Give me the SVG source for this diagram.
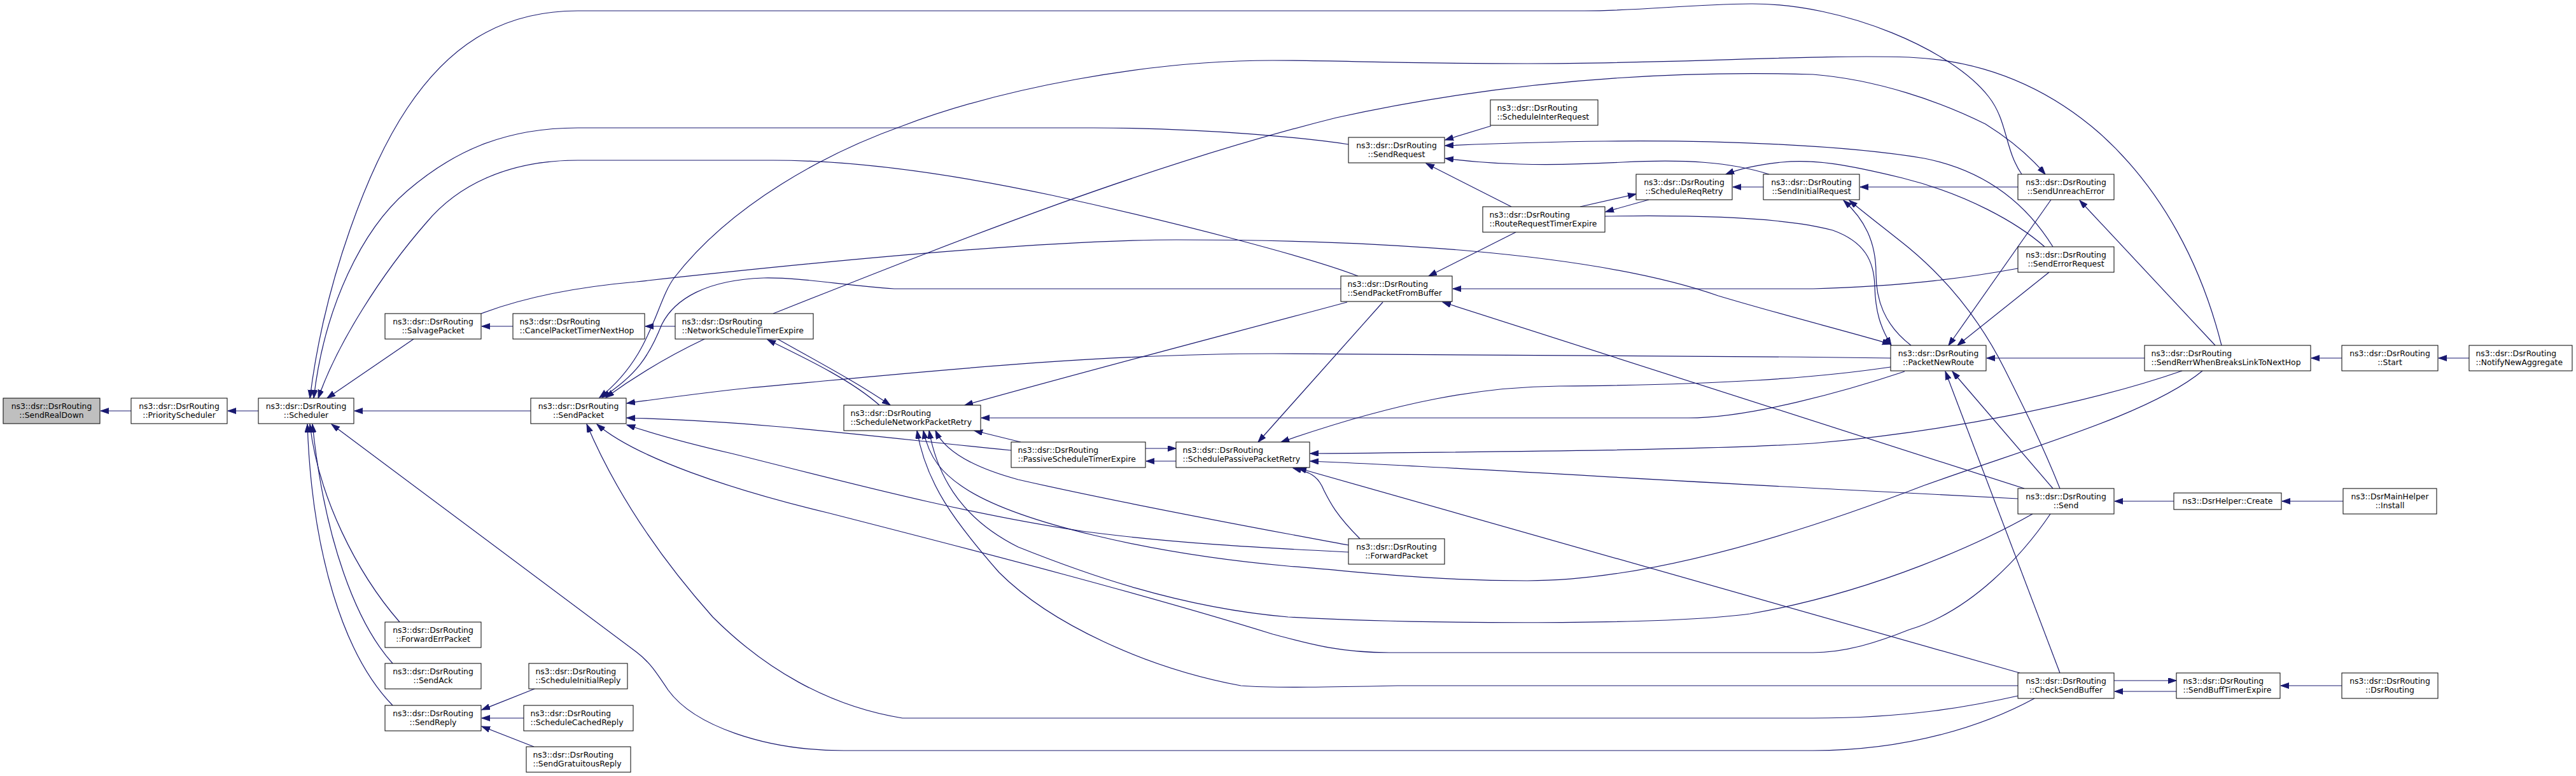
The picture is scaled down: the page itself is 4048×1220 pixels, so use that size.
<svg xmlns="http://www.w3.org/2000/svg" width="4048" height="1220" viewBox="0 0 4048 1220">
<defs>
<marker id="ah" markerUnits="userSpaceOnUse" markerWidth="14" markerHeight="10" refX="13" refY="4.5" orient="auto">
<path d="M0,0 L13,4.5 L0,9 z" fill="#191970" stroke="#191970" stroke-width="1"/>
</marker>
<style>
.n rect{fill:#fff;stroke:#000;stroke-width:1}
.n.g rect{fill:#bfbfbf}
text{font-family:"DejaVu Sans","Liberation Sans",sans-serif;font-size:12.4px;fill:#000}
.c{text-anchor:middle}
#edges path{fill:none;stroke:#191970;stroke-width:1.2;marker-end:url(#ah)}
</style>
</defs>
<rect x="0" y="0" width="4048" height="1220" fill="#fff"/>
<g id="edges">
<path d="M206,646 L158,646"/>
<path d="M406,646 L358,646"/>
<path d="M834,646 L557,646"/>
<path d="M650,533 L514,626"/>
<path d="M3177,274 C3150,235 3155,190 3125,152 C3070,80 2900,5 2751,6 C2650,7 2580,17 2490,17 L908,17 C780,17 700,80 640,170 C580,260 510,440 487,626"/>
<path d="M2119,227 C2060,218 1900,201 1718,201 L908,201 C790,201 710,240 640,300 C570,360 510,480 493,626"/>
<path d="M2134,434 C2060,405 1850,350 1653,307 C1480,270 1330,252 1215,252 L908,252 C800,252 720,290 670,350 C600,430 530,540 500,626"/>
<path d="M628,978 C560,900 500,780 487,667"/>
<path d="M617,1043 C560,980 510,850 491,667"/>
<path d="M617,1109 C540,1030 490,870 483,667"/>
<path d="M3197,1098 C3120,1140 3000,1180 2849,1180 L1326,1180 C1200,1180 1090,1140 1050,1085 C1030,1055 1020,1040 1000,1025 L521,667"/>
<path d="M840,1083 L757,1116"/>
<path d="M823,1129 L757,1129"/>
<path d="M839,1174 L757,1142"/>
<path d="M806,513 L757,513"/>
<path d="M1061,513 L1014,513"/>
<path d="M756,493 C830,465 920,450 1000,443 C1300,410 1650,377 1849,377 C2150,377 2500,395 2700,465 C2800,495 2900,520 2971,541"/>
<path d="M3491,543 C3460,420 3400,300 3300,210 C3220,140 3120,95 3000,90 C2850,85 2650,100 2400,100 C2200,100 2100,95 2000,95 C1800,95 1570,140 1418,198 C1300,240 1150,320 1060,436 C1030,475 1025,560 942,625"/>
<path d="M2107,454 L1405,454 C1320,448 1260,436 1200,437 C1110,440 1060,470 1040,510 C1020,560 1000,590 946,625"/>
<path d="M1107,533 C1050,560 1000,590 952,625"/>
<path d="M2971,563 C2600,558 2200,556 2000,556 C1700,556 1400,590 1176,610 C1100,618 1050,625 985,634"/>
<path d="M1589,708 C1400,690 1200,662 985,657"/>
<path d="M2119,868 C2000,862 1850,855 1700,835 C1500,805 1300,750 1150,713 C1080,697 1030,683 985,668"/>
<path d="M3222,808 C3180,870 3100,960 3000,990 C2950,1010 2900,1026 2849,1026 L2183,1026 C2100,1026 2050,1010 2000,997 C1800,935 1550,870 1300,806 C1150,770 1000,720 938,667"/>
<path d="M3171,1094 C3100,1110 3000,1129 2849,1129 L1418,1129 C1300,1110 1200,1050 1120,970 C1040,880 970,780 922,667"/>
<path d="M1222,533 C1280,566 1345,600 1399,637"/>
<path d="M1382,637 C1340,600 1280,570 1206,534"/>
<path d="M1604,695 L1531,677"/>
<path d="M2993,584 C2900,615 2750,657 2653,657 L1542,657"/>
<path d="M2117,475 C1950,520 1700,585 1516,637"/>
<path d="M2119,857 C2000,835 1780,795 1600,754 C1530,735 1485,710 1470,677"/>
<path d="M3461,583 C3380,650 3200,700 3024,763 C2850,830 2600,913 2400,913 C2250,913 2150,900 2024,890 C1800,870 1600,820 1520,770 C1480,745 1460,720 1451,677"/>
<path d="M3194,808 C3120,850 2950,930 2750,965 C2600,985 2200,980 2024,970 C1850,955 1700,900 1600,860 C1520,820 1475,760 1460,677"/>
<path d="M3171,1078 L2196,1078 C2100,1080 2000,1082 1950,1078 C1800,1050 1650,980 1570,900 C1500,820 1455,760 1441,677"/>
<path d="M1800,705 L1848,705"/>
<path d="M1848,725 L1801,725"/>
<path d="M2173,475 L1977,695"/>
<path d="M2971,577 C2850,595 2700,605 2450,607 C2330,608 2200,630 2013,695"/>
<path d="M3429,583 C3280,635 3050,680 2849,697 C2700,707 2400,710 2059,713"/>
<path d="M3171,784 C3100,780 3000,775 2900,770 C2600,755 2300,735 2059,725"/>
<path d="M3174,1058 L2040,736"/>
<path d="M2137,847 C2100,810 2090,790 2080,770 C2070,745 2055,742 2032,736"/>
<path d="M1215,493 C1500,380 1800,260 2100,185 C2350,130 2600,110 2849,117 C2950,125 3050,160 3120,195 C3160,220 3192,248 3214,274"/>
<path d="M2343,198 L2271,220"/>
<path d="M3226,388 C3190,330 3130,270 3024,249 C2900,228 2700,220 2522,222 C2420,223 2340,226 2271,229"/>
<path d="M2780,274 C2720,255 2650,250 2550,255 C2420,262 2340,258 2271,249"/>
<path d="M2375,325 L2241,257"/>
<path d="M2382,365 L2245,434"/>
<path d="M2483,325 L2571,305"/>
<path d="M2591,314 L2523,333"/>
<path d="M2771,294 L2723,294"/>
<path d="M3213,388 C3170,350 3090,305 2990,280 C2900,258 2850,250 2800,255 C2760,259 2735,265 2712,274"/>
<path d="M3171,294 L2923,294"/>
<path d="M3237,768 C3210,700 3180,640 3150,580 C3110,500 3060,440 3000,390 C2960,358 2930,335 2906,315"/>
<path d="M3003,543 C2960,510 2948,470 2948,430 C2948,380 2930,345 2897,315"/>
<path d="M2522,340 C2650,338 2800,340 2880,362 C2930,380 2945,410 2946,450 C2947,490 2955,515 2972,543"/>
<path d="M3171,422 C3100,435 3000,450 2849,454 L2283,454"/>
<path d="M3181,768 L2267,475"/>
<path d="M3370,563 L3122,563"/>
<path d="M3223,314 L3062,543"/>
<path d="M3220,428 L3076,543"/>
<path d="M3226,768 L3068,584"/>
<path d="M3237,1058 L3057,584"/>
<path d="M3481,543 L3268,315"/>
<path d="M3680,563 L3632,563"/>
<path d="M3880,563 L3832,563"/>
<path d="M3416,788 L3323,788"/>
<path d="M3682,788 L3586,788"/>
<path d="M3322,1070 L3420,1070"/>
<path d="M3420,1087 L3323,1087"/>
<path d="M3680,1078 L3584,1078"/>
</g>
<g id="n1" class="n g"><rect x="5" y="626" width="152" height="40"/><text class="c" x="81" y="642.5">ns3::dsr::DsrRouting</text><text class="c" x="81" y="656.5">::SendRealDown</text></g>
<g id="n2" class="n"><rect x="206" y="626" width="151" height="40"/><text class="c" x="281.5" y="642.5">ns3::dsr::DsrRouting</text><text class="c" x="281.5" y="656.5">::PriorityScheduler</text></g>
<g id="n3" class="n"><rect x="406" y="626" width="150" height="40"/><text class="c" x="481" y="642.5">ns3::dsr::DsrRouting</text><text class="c" x="481" y="656.5">::Scheduler</text></g>
<g id="n4" class="n"><rect x="605" y="493" width="151" height="40"/><text class="c" x="680.5" y="509.5">ns3::dsr::DsrRouting</text><text class="c" x="680.5" y="523.5">::SalvagePacket</text></g>
<g id="n5" class="n"><rect x="605" y="978" width="151" height="40"/><text class="c" x="680.5" y="994.5">ns3::dsr::DsrRouting</text><text class="c" x="680.5" y="1008.5">::ForwardErrPacket</text></g>
<g id="n6" class="n"><rect x="605" y="1043" width="151" height="40"/><text class="c" x="680.5" y="1059.5">ns3::dsr::DsrRouting</text><text class="c" x="680.5" y="1073.5">::SendAck</text></g>
<g id="n7" class="n"><rect x="605" y="1109" width="151" height="40"/><text class="c" x="680.5" y="1125.5">ns3::dsr::DsrRouting</text><text class="c" x="680.5" y="1139.5">::SendReply</text></g>
<g id="n8" class="n"><rect x="806" y="493" width="207" height="40"/><text x="816.5" y="509.5">ns3::dsr::DsrRouting</text><text x="816.5" y="523.5">::CancelPacketTimerNextHop</text></g>
<g id="n9" class="n"><rect x="834" y="626" width="150" height="40"/><text class="c" x="909" y="642.5">ns3::dsr::DsrRouting</text><text class="c" x="909" y="656.5">::SendPacket</text></g>
<g id="n10" class="n"><rect x="831" y="1043" width="155" height="40"/><text x="841.5" y="1059.5">ns3::dsr::DsrRouting</text><text x="841.5" y="1073.5">::ScheduleInitialReply</text></g>
<g id="n11" class="n"><rect x="823" y="1109" width="172" height="40"/><text x="833.5" y="1125.5">ns3::dsr::DsrRouting</text><text x="833.5" y="1139.5">::ScheduleCachedReply</text></g>
<g id="n12" class="n"><rect x="827" y="1174" width="164" height="40"/><text x="837.5" y="1190.5">ns3::dsr::DsrRouting</text><text x="837.5" y="1204.5">::SendGratuitousReply</text></g>
<g id="n13" class="n"><rect x="1061" y="493" width="217" height="40"/><text x="1071.5" y="509.5">ns3::dsr::DsrRouting</text><text x="1071.5" y="523.5">::NetworkScheduleTimerExpire</text></g>
<g id="n14" class="n"><rect x="1326" y="637" width="215" height="40"/><text x="1336.5" y="653.5">ns3::dsr::DsrRouting</text><text x="1336.5" y="667.5">::ScheduleNetworkPacketRetry</text></g>
<g id="n15" class="n"><rect x="1589" y="695" width="211" height="40"/><text x="1599.5" y="711.5">ns3::dsr::DsrRouting</text><text x="1599.5" y="725.5">::PassiveScheduleTimerExpire</text></g>
<g id="n16" class="n"><rect x="1848" y="695" width="210" height="40"/><text x="1858.5" y="711.5">ns3::dsr::DsrRouting</text><text x="1858.5" y="725.5">::SchedulePassivePacketRetry</text></g>
<g id="n17" class="n"><rect x="2119" y="216" width="151" height="40"/><text class="c" x="2194.5" y="232.5">ns3::dsr::DsrRouting</text><text class="c" x="2194.5" y="246.5">::SendRequest</text></g>
<g id="n18" class="n"><rect x="2342" y="157" width="169" height="40"/><text x="2352.5" y="173.5">ns3::dsr::DsrRouting</text><text x="2352.5" y="187.5">::ScheduleInterRequest</text></g>
<g id="n19" class="n"><rect x="2330" y="325" width="192" height="40"/><text x="2340.5" y="341.5">ns3::dsr::DsrRouting</text><text x="2340.5" y="355.5">::RouteRequestTimerExpire</text></g>
<g id="n20" class="n"><rect x="2107" y="434" width="175" height="40"/><text x="2117.5" y="450.5">ns3::dsr::DsrRouting</text><text x="2117.5" y="464.5">::SendPacketFromBuffer</text></g>
<g id="n21" class="n"><rect x="2119" y="847" width="151" height="40"/><text class="c" x="2194.5" y="863.5">ns3::dsr::DsrRouting</text><text class="c" x="2194.5" y="877.5">::ForwardPacket</text></g>
<g id="n22" class="n"><rect x="2571" y="274" width="151" height="40"/><text class="c" x="2646.5" y="290.5">ns3::dsr::DsrRouting</text><text class="c" x="2646.5" y="304.5">::ScheduleReqRetry</text></g>
<g id="n23" class="n"><rect x="2771" y="274" width="151" height="40"/><text class="c" x="2846.5" y="290.5">ns3::dsr::DsrRouting</text><text class="c" x="2846.5" y="304.5">::SendInitialRequest</text></g>
<g id="n24" class="n"><rect x="2971" y="543" width="150" height="40"/><text class="c" x="3046" y="559.5">ns3::dsr::DsrRouting</text><text class="c" x="3046" y="573.5">::PacketNewRoute</text></g>
<g id="n25" class="n"><rect x="3171" y="274" width="151" height="40"/><text class="c" x="3246.5" y="290.5">ns3::dsr::DsrRouting</text><text class="c" x="3246.5" y="304.5">::SendUnreachError</text></g>
<g id="n26" class="n"><rect x="3171" y="388" width="151" height="40"/><text class="c" x="3246.5" y="404.5">ns3::dsr::DsrRouting</text><text class="c" x="3246.5" y="418.5">::SendErrorRequest</text></g>
<g id="n27" class="n"><rect x="3171" y="768" width="151" height="40"/><text class="c" x="3246.5" y="784.5">ns3::dsr::DsrRouting</text><text class="c" x="3246.5" y="798.5">::Send</text></g>
<g id="n28" class="n"><rect x="3171" y="1058" width="151" height="40"/><text class="c" x="3246.5" y="1074.5">ns3::dsr::DsrRouting</text><text class="c" x="3246.5" y="1088.5">::CheckSendBuffer</text></g>
<g id="n29" class="n"><rect x="3370" y="543" width="261" height="40"/><text x="3380.5" y="559.5">ns3::dsr::DsrRouting</text><text x="3380.5" y="573.5">::SendRerrWhenBreaksLinkToNextHop</text></g>
<g id="n30" class="n"><rect x="3416" y="775" width="169" height="26"/><text class="c" x="3500.5" y="792">ns3::DsrHelper::Create</text></g>
<g id="n31" class="n"><rect x="3420" y="1058" width="163" height="40"/><text x="3430.5" y="1074.5">ns3::dsr::DsrRouting</text><text x="3430.5" y="1088.5">::SendBuffTimerExpire</text></g>
<g id="n32" class="n"><rect x="3680" y="543" width="151" height="40"/><text class="c" x="3755.5" y="559.5">ns3::dsr::DsrRouting</text><text class="c" x="3755.5" y="573.5">::Start</text></g>
<g id="n33" class="n"><rect x="3682" y="768" width="147" height="40"/><text class="c" x="3755.5" y="784.5">ns3::DsrMainHelper</text><text class="c" x="3755.5" y="798.5">::Install</text></g>
<g id="n34" class="n"><rect x="3680" y="1058" width="151" height="40"/><text class="c" x="3755.5" y="1074.5">ns3::dsr::DsrRouting</text><text class="c" x="3755.5" y="1088.5">::DsrRouting</text></g>
<g id="n35" class="n"><rect x="3880" y="543" width="162" height="40"/><text x="3890.5" y="559.5">ns3::dsr::DsrRouting</text><text x="3890.5" y="573.5">::NotifyNewAggregate</text></g>
</svg>
